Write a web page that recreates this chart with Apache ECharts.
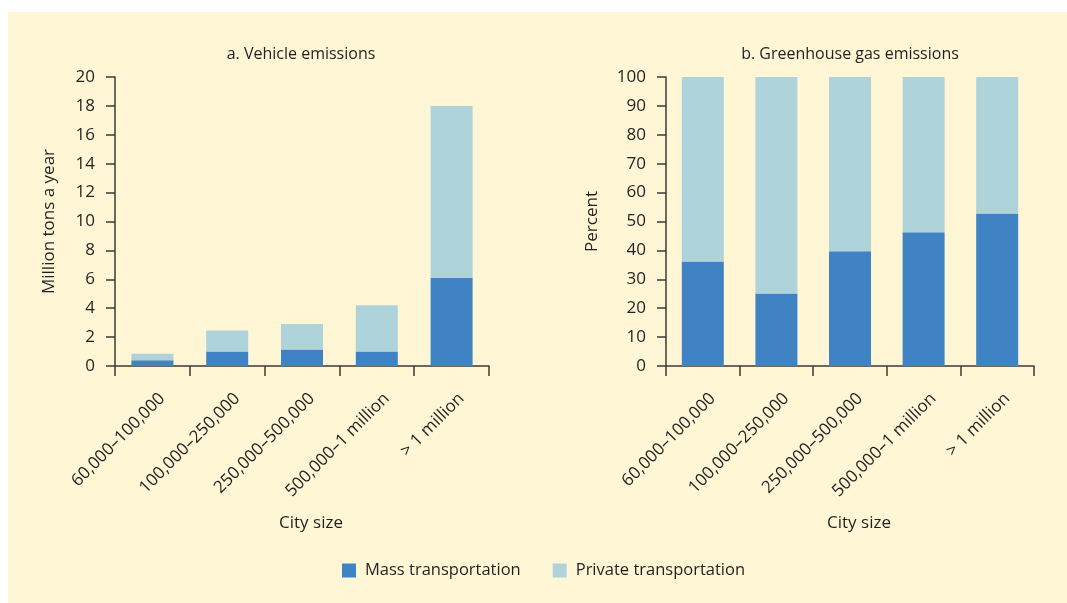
<!DOCTYPE html>
<html>
<head>
<meta charset="utf-8">
<script src="https://cdn.jsdelivr.net/npm/echarts@6/dist/echarts.min.js"></script>
<style>
html,body{margin:0;padding:0;background:#ffffff;}
#chart{width:1067px;height:603px;}
</style>
</head>
<body>
<div id="chart"></div>
<script>
const categories = ['60,000\u2013100,000', '100,000\u2013250,000', '250,000\u2013500,000', '500,000\u20131 million', '> 1 million'];
const vehicleMass = [0.4, 1.0, 1.15, 1.0, 6.1];
const vehiclePrivate = [0.45, 1.45, 1.75, 3.2, 11.9];
const ghgMass = [36.2, 25.1, 39.7, 46.3, 52.8];
const ghgPrivate = [63.8, 74.9, 60.3, 53.7, 47.2];
const seriesNames = ['Mass transportation', 'Private transportation'];

const FONT = '"Open Sans", "Noto Sans", sans-serif';
const TXT = '#231F20';
const AX = '#3d3a37';
const MASS = '#3F83C5';
const PRIV = '#AED3DA';

function xAxis(gridIndex) {
  return {
    type: 'category', gridIndex, data: categories,
    axisLine: {lineStyle: {color: AX, width: 1.5}},
    axisTick: {show: true, length: 10, lineStyle: {color: AX, width: 1.5}},
    axisLabel: {rotate: 45, margin: 20, color: TXT, fontFamily: FONT, fontSize: 17, verticalAlign: 'top', lineHeight: 28},
    name: 'City size', nameLocation: 'middle', nameGap: 149,
    nameTextStyle: {color: TXT, fontFamily: FONT, fontSize: 17, padding: [0, 0, 0, 18]}
  };
}
function yAxis(gridIndex, max, interval, name, gap) {
  return {
    type: 'value', gridIndex, min: 0, max, interval,
    splitLine: {show: false},
    axisLine: {show: true, lineStyle: {color: AX, width: 1.5}},
    axisTick: {show: true, length: 9, lineStyle: {color: AX, width: 1.5}},
    axisLabel: {margin: 20, color: TXT, fontFamily: FONT, fontSize: 17},
    name, nameLocation: 'middle', nameGap: gap,
    nameTextStyle: {color: TXT, fontFamily: FONT, fontSize: 17}
  };
}

const chart = echarts.init(document.getElementById('chart'), null, {renderer: 'canvas'});
chart.setOption({
  backgroundColor: '#ffffff',
  animation: false,
  graphic: [{type: 'rect', z: -10, silent: true, shape: {x: 8, y: 12, width: 1059, height: 591}, style: {fill: '#FEF6D5'}}],
  title: [
    {text: 'a. Vehicle emissions', left: 296, top: 41, textAlign: 'center',
     textStyle: {color: TXT, fontFamily: FONT, fontSize: 16, fontWeight: 'normal'}},
    {text: 'b. Greenhouse gas emissions', left: 845, top: 41, textAlign: 'center',
     textStyle: {color: TXT, fontFamily: FONT, fontSize: 16, fontWeight: 'normal'}}
  ],
  legend: {
    data: seriesNames, left: 342, top: 562, padding: 0, icon: 'rect', itemWidth: 14, itemHeight: 14, itemGap: 32,
    textStyle: {color: TXT, fontFamily: FONT, fontSize: 16.5, padding: [0, 0, 0, 4]}
  },
  grid: [
    {left: 115, top: 77, width: 374, height: 289},
    {left: 666, top: 77, width: 368, height: 289}
  ],
  xAxis: [xAxis(0), xAxis(1)],
  yAxis: [yAxis(0, 20, 2, 'Million tons a year', 57), yAxis(1, 100, 10, 'Percent', 65)],
  series: [
    {name: seriesNames[0], type: 'bar', stack: 'a', xAxisIndex: 0, yAxisIndex: 0, barWidth: 42, data: vehicleMass, itemStyle: {color: MASS}},
    {name: seriesNames[1], type: 'bar', stack: 'a', xAxisIndex: 0, yAxisIndex: 0, barWidth: 42, data: vehiclePrivate, itemStyle: {color: PRIV}},
    {name: seriesNames[0], type: 'bar', stack: 'b', xAxisIndex: 1, yAxisIndex: 1, barWidth: 42, data: ghgMass, itemStyle: {color: MASS}},
    {name: seriesNames[1], type: 'bar', stack: 'b', xAxisIndex: 1, yAxisIndex: 1, barWidth: 42, data: ghgPrivate, itemStyle: {color: PRIV}}
  ]
});
</script>
</body>
</html>
